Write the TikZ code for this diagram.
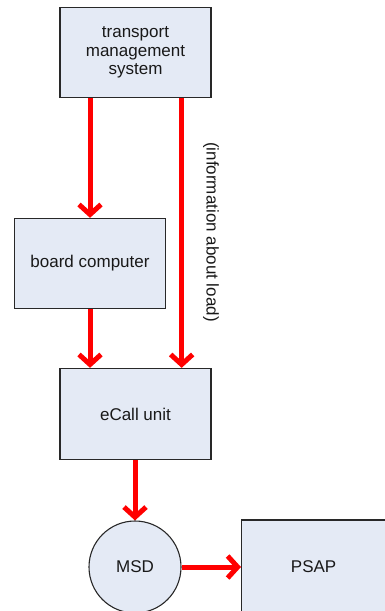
\documentclass[tikz,border=0pt]{standalone}
\usepackage{fontspec}
\setmainfont{Liberation Sans}
\usetikzlibrary{arrows.meta,calc}
\definecolor{boxfill}{RGB}{228,234,245}
\definecolor{boxline}{RGB}{40,40,40}
\definecolor{flowred}{RGB}{255,0,0}
\tikzset{
  unitbox/.style={draw=boxline, line width=1.3pt, fill=boxfill, minimum width=151pt,
    minimum height=90pt, inner sep=0pt, align=center,
    font=\fontsize{17pt}{18.5pt}\selectfont, text=black!90},
  msdnode/.style={circle, draw=boxline, line width=1.1pt, fill=boxfill, minimum size=92pt,
    inner sep=0pt, font=\fontsize{17pt}{19pt}\selectfont, text=black!90},
  flow/.style={draw=flowred, line width=5pt,
    -{Straight Barb[length=10pt,width=22pt]}},
  sidelabel/.style={font=\fontsize{17pt}{19pt}\selectfont, text=black!90, rotate=-90}
}
\begin{document}
\begin{tikzpicture}[x=1pt,y=-1pt]
  \useasboundingbox (0,0) rectangle (384,611);
  % components of the chain
  \node[unitbox] (tms) at (135.5,52.5) {transport\\management\\system};
  \node[unitbox] (bc) at (90,263.5) {board computer};
  \node[unitbox, minimum height=91pt] (ecall) at (135.5,414) {eCall unit};
  \node[msdnode] (msd) at (135,567) {MSD};
  % the PSAP box runs past the right and bottom edges of the page
  \node[unitbox, minimum width=160pt, minimum height=94pt, anchor=west] (psap) at (241,567) {PSAP\hspace*{16pt}};
  % data flow
  \coordinate (tmsright) at ($(tms.south east)+(-30,0)$);
  \draw[flow] (tms.south -| bc.north) -- (bc.north);
  \draw[flow] (tmsright) -- (tmsright |- ecall.north);
  \draw[flow] (bc.south) -- (bc.south |- ecall.north);
  \draw[flow] (ecall.south -| msd.north) -- (msd.north);
  \draw[flow] (msd.east) -- (psap.west);
  \node[sidelabel] (loadinfo) at (211,232) {(information about load)};
\end{tikzpicture}
\end{document}
